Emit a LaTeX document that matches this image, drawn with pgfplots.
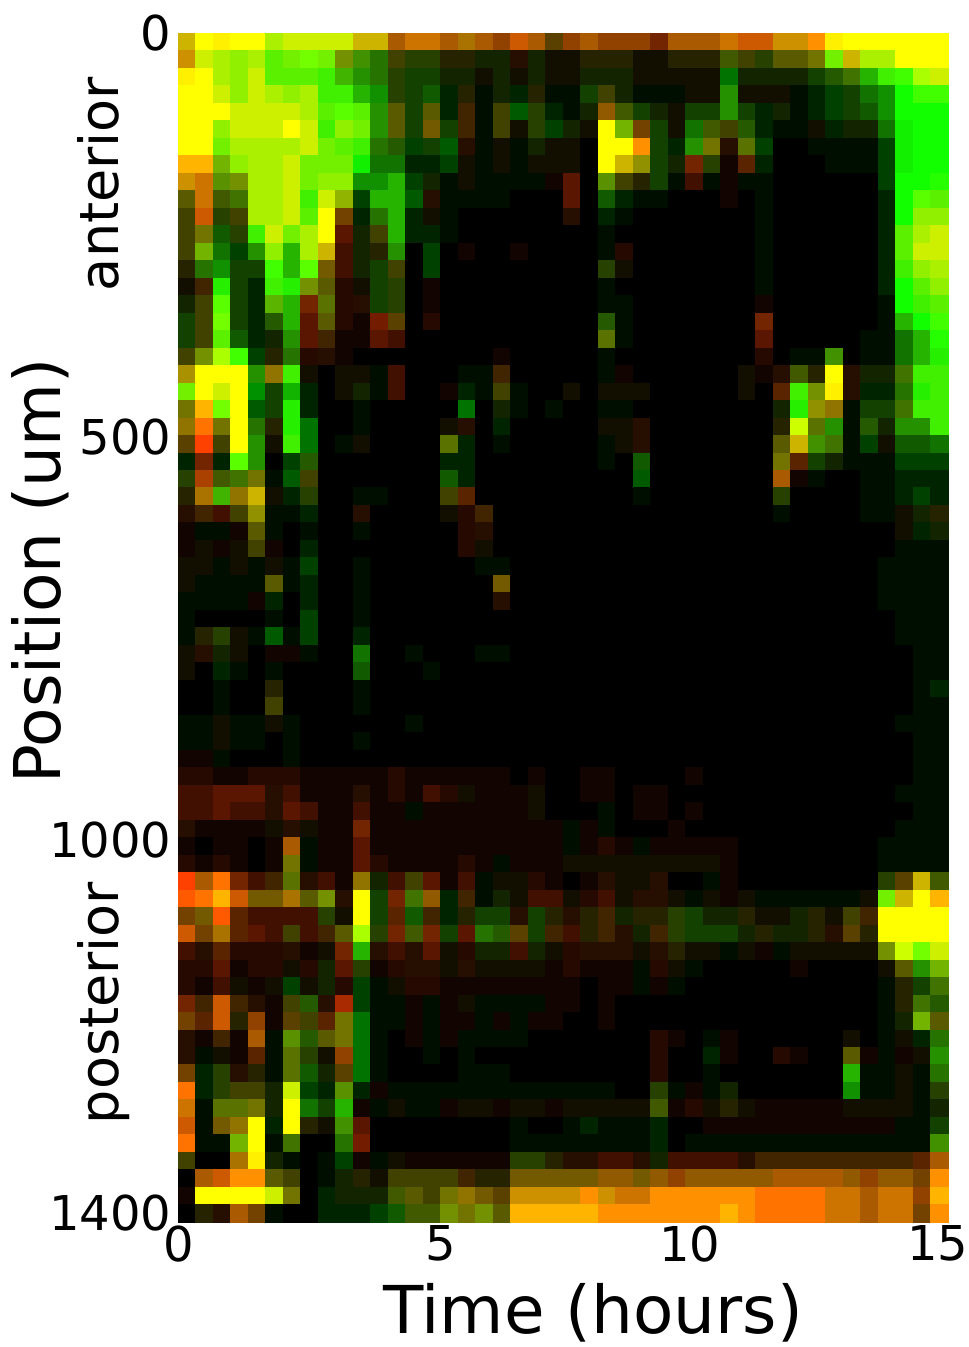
\documentclass[border=0pt]{standalone}
\usepackage{fontspec}
\setmainfont{DejaVu Sans}
\usepackage{pgfplots}
\usepackage{pgfplotstable}
\pgfplotsset{compat=1.18}
% every cell is RG: red level (tens) and green level (units), each 0..9
\pgfplotstableread[header=false]{
87 99 98 99 99 78 88 88 88 88 87 87 74 85 85 74 75 74 63 84 74 43 63 74 63 63 63 52 74 74 74 85 84 84 86 86 96 98 99 99 99 99 99 99
86 88 78 68 78 48 58 59 58 56 36 25 33 23 23 22 22 12 12 21 12 11 11 22 22 22 11 11 22 22 22 34 33 23 44 44 55 58 87 78 78 99 99 99
98 99 78 68 88 48 48 48 38 37 26 25 23 13 13 12 12 11 12 11 12 11 11 12 12 12 11 11 11 11 11 5 12 12 12 12 13 24 35 27 38 39 79 88
99 99 88 68 88 78 68 78 38 38 27 16 23 13 14 2 22 1 12 2 22 1 1 13 33 12 1 1 1 11 11 26 11 11 11 1 2 3 13 15 16 19 39 39
99 99 99 88 88 88 88 78 48 49 48 26 44 13 44 2 32 1 33 4 23 2 1 12 64 34 13 12 11 13 13 26 13 2 12 1 2 3 13 14 16 19 19 19
99 99 68 88 88 88 99 88 38 68 58 26 44 13 54 13 32 1 33 11 23 3 12 11 99 57 53 13 11 15 34 33 24 2 1 1 11 2 12 12 15 18 19 19
99 99 58 78 78 78 78 88 58 48 38 25 24 3 13 4 21 1 11 1 12 11 11 0 99 99 96 13 2 26 55 21 45 3 0 0 1 1 1 1 3 18 19 19
97 97 57 68 78 78 88 58 58 58 18 15 15 2 2 3 11 1 11 1 11 11 11 0 99 87 66 13 12 52 23 10 42 2 0 0 0 1 1 1 3 18 19 19
86 85 46 56 78 78 88 58 68 68 16 16 27 3 12 1 11 1 1 1 1 10 41 0 46 33 22 13 1 30 1 10 1 1 0 0 0 0 0 0 3 19 19 29
44 85 34 35 78 78 88 38 88 67 3 27 27 4 21 1 1 1 1 0 0 0 41 0 14 2 1 1 0 0 0 10 0 1 0 0 0 0 0 0 2 19 49 48
33 84 23 33 78 78 88 48 99 53 2 25 27 2 11 1 0 0 0 0 0 0 21 0 2 1 0 0 0 0 0 0 0 1 0 0 0 0 0 0 2 19 68 68
33 55 14 23 38 88 58 78 99 40 12 33 27 2 2 1 0 0 0 0 0 0 0 0 1 0 0 0 0 0 0 0 0 1 0 0 0 0 0 0 2 48 78 88
33 57 15 3 26 68 27 78 87 30 12 22 26 0 3 0 10 0 0 10 0 0 0 0 1 20 0 0 0 0 0 0 0 1 0 0 0 0 0 0 2 48 88 88
22 25 16 13 13 39 27 49 54 30 12 13 33 0 3 0 0 0 0 0 0 0 0 0 23 11 0 0 0 0 0 0 0 1 0 0 0 0 0 0 2 38 68 78
11 32 28 13 2 38 28 56 44 20 11 13 23 0 10 0 0 0 0 0 0 0 0 0 1 0 0 0 0 0 0 0 0 1 0 0 0 0 0 0 2 19 48 68
12 33 49 13 2 47 27 52 45 20 21 13 23 0 10 0 0 0 0 0 0 0 0 0 1 1 0 0 0 0 0 0 0 10 0 0 0 0 0 0 1 19 38 48
13 33 59 13 2 24 27 41 44 20 10 51 43 0 20 0 0 0 0 0 0 0 0 0 24 1 0 0 0 0 0 0 0 52 0 0 0 0 0 0 1 27 19 39
13 33 48 14 2 12 26 40 32 10 10 41 31 0 0 0 0 0 0 0 0 0 0 0 45 1 0 0 0 0 0 0 0 41 0 0 0 0 0 1 1 15 27 29
33 56 79 39 3 22 25 20 21 10 0 0 0 0 0 0 0 0 10 0 0 0 0 0 1 0 0 0 0 0 0 0 0 20 0 1 1 36 0 1 1 15 27 28
76 99 99 99 26 65 38 11 0 11 11 1 30 0 0 0 1 1 32 0 0 0 0 0 1 10 0 0 0 0 0 0 11 10 21 34 22 99 21 12 12 35 38 38
58 99 88 99 6 13 17 2 0 11 12 1 30 0 0 10 2 1 33 1 0 0 11 0 11 11 11 0 0 0 0 0 11 0 42 38 56 98 21 2 2 25 28 38
55 97 59 99 4 13 28 2 0 0 1 0 0 0 0 0 5 0 12 1 0 1 0 0 1 1 0 0 0 0 0 0 0 0 12 28 66 65 1 13 13 35 38 38
65 95 55 99 25 22 28 5 0 0 1 0 0 0 0 11 21 0 2 0 0 0 0 0 11 11 21 0 0 0 0 0 0 0 22 89 45 26 1 24 12 26 26 38
43 93 33 99 26 11 38 5 0 1 11 0 0 0 0 45 2 0 1 0 0 0 0 0 1 11 21 0 0 0 0 0 0 0 44 87 36 35 1 3 11 14 14 15
2 52 2 49 26 0 3 24 0 0 0 0 0 0 0 2 2 0 0 0 0 0 0 0 1 0 14 0 0 0 0 0 0 0 55 42 13 12 1 1 1 3 3 3
23 73 34 35 55 1 4 33 0 0 0 0 0 0 0 14 2 0 0 0 0 0 0 0 0 0 4 0 0 0 0 0 0 0 74 10 1 0 0 1 1 2 2 2
22 75 37 65 87 11 2 23 0 0 1 1 0 0 0 33 42 0 0 0 0 0 0 0 0 0 1 0 0 0 0 0 0 0 23 0 0 0 0 1 1 2 3 2
21 32 31 33 66 1 1 2 0 0 21 0 0 0 0 11 20 32 0 0 0 0 0 0 0 0 0 0 0 0 0 0 0 0 1 0 0 0 0 1 1 11 12 22
10 1 1 10 44 1 0 1 0 0 1 0 0 0 0 0 20 21 0 0 0 0 0 0 0 0 0 0 0 0 0 0 0 0 0 0 0 0 0 0 0 11 2 12
10 11 10 11 33 10 0 2 0 0 0 0 0 0 0 0 20 11 0 0 0 0 0 0 0 0 0 0 0 0 0 0 0 0 0 0 0 0 0 0 0 1 1 1
11 11 1 11 1 11 1 3 0 0 1 0 0 0 0 0 0 1 1 0 0 0 0 0 0 0 0 0 0 0 0 0 0 0 0 0 0 0 0 0 1 1 1 1
11 1 1 1 1 44 1 2 0 0 1 0 0 0 0 0 0 0 54 0 0 0 0 0 0 0 0 0 0 0 0 0 0 0 0 0 0 0 0 0 1 1 1 1
1 1 1 1 10 2 0 2 0 0 1 0 0 0 0 0 0 0 21 0 0 0 0 0 0 0 0 0 0 0 0 0 0 0 0 0 0 0 0 0 1 1 1 1
1 0 0 0 0 1 0 3 0 0 1 0 0 0 0 0 0 0 0 0 0 0 0 0 0 0 0 0 0 0 0 0 0 0 0 0 0 0 0 0 0 1 1 1
1 22 23 11 1 4 1 3 0 0 2 0 0 0 0 0 0 0 0 0 0 0 0 0 0 0 0 0 0 0 0 0 0 0 0 0 0 0 0 0 0 1 1 1
11 21 12 11 0 10 10 1 0 0 15 0 0 1 0 0 0 1 1 0 0 0 0 0 0 0 0 0 0 0 0 0 0 0 0 0 0 0 0 0 0 0 1 1
11 0 2 1 0 1 0 0 0 0 14 0 0 0 1 0 0 0 0 0 0 0 0 0 0 0 0 0 0 0 0 0 0 0 0 0 0 0 0 0 0 0 1 1
0 0 1 0 0 22 0 0 0 0 1 0 0 0 0 0 0 0 0 0 0 0 0 0 0 0 0 0 0 0 0 0 0 0 0 0 0 0 0 0 0 0 1 2
0 0 1 0 0 33 0 0 0 0 1 0 0 0 0 0 0 0 0 0 0 0 0 0 0 0 0 0 0 0 0 0 0 0 0 0 0 0 0 0 0 0 1 1
1 1 11 1 1 11 1 0 0 0 0 0 0 1 0 0 0 0 0 0 0 0 0 0 0 0 0 0 0 0 0 0 0 0 0 0 0 0 0 0 0 1 1 1
1 1 11 1 1 0 1 0 0 0 1 0 0 0 0 0 0 0 0 0 0 0 0 0 0 0 0 0 0 0 0 0 0 0 0 0 0 0 0 0 0 0 1 1
10 10 1 0 0 0 1 0 0 0 0 0 0 0 0 0 0 0 0 0 0 0 0 0 0 0 0 0 0 0 0 0 0 0 0 0 0 0 0 0 0 0 1 1
20 20 10 10 20 20 20 10 10 10 10 10 20 10 10 10 10 10 10 0 10 0 0 10 10 0 0 0 0 10 0 0 0 0 0 0 0 0 0 0 0 0 1 1
31 31 41 41 41 21 31 10 10 10 21 10 20 10 30 20 11 10 10 10 11 0 0 10 10 0 10 10 0 0 0 0 0 0 0 0 0 0 0 0 0 1 1 1
31 31 41 31 31 21 41 31 10 10 30 10 10 1 10 10 10 10 10 10 11 0 0 0 1 0 10 10 0 10 0 0 0 0 0 0 0 0 0 0 0 0 1 1
21 10 10 10 10 11 21 11 10 10 52 10 10 10 10 10 10 10 10 10 10 10 1 10 1 0 0 0 10 0 0 0 0 0 0 0 0 0 0 0 0 1 1 1
10 0 10 10 0 10 74 1 10 10 41 10 10 10 10 10 10 10 10 10 10 10 1 10 20 10 1 10 10 10 10 10 0 0 0 0 0 0 0 0 1 1 1 1
20 10 20 10 0 10 55 1 10 10 41 20 10 10 10 10 20 10 1 10 10 10 11 11 11 11 11 11 11 11 11 10 0 0 0 0 0 0 0 0 1 1 1 1
93 74 95 52 31 32 45 21 31 10 65 12 31 33 41 10 31 1 11 11 20 10 0 10 21 11 11 21 0 0 1 10 0 0 0 0 0 0 0 0 23 43 87 34
94 95 97 84 54 54 75 44 56 21 99 13 52 35 64 2 32 1 12 11 31 31 11 20 31 11 21 21 11 1 11 10 11 1 1 1 1 1 1 11 58 87 99 97
53 54 94 42 31 31 31 31 23 11 99 13 42 14 32 2 22 13 13 21 13 22 21 22 32 12 22 22 23 13 12 12 22 11 11 12 22 11 33 32 99 99 99 99
84 53 75 42 41 31 33 31 32 44 79 23 52 34 52 13 41 25 24 43 13 32 31 22 32 21 12 32 23 13 13 13 12 22 12 12 22 21 43 22 99 99 99 99
31 21 42 20 20 20 21 10 11 52 27 21 31 21 41 11 20 12 12 31 12 11 20 21 21 21 11 21 22 11 11 1 11 10 1 11 11 11 11 11 56 89 59 88
20 20 41 10 20 20 11 20 12 41 23 10 20 21 21 11 21 11 11 11 11 10 20 10 10 10 1 20 11 1 0 0 0 0 0 10 0 0 0 0 11 44 26 57
20 10 30 11 10 11 3 11 12 20 3 1 11 20 20 10 10 10 10 10 10 10 10 0 10 10 1 10 1 0 0 0 0 0 0 0 0 0 0 0 1 22 13 35
52 32 84 32 21 10 33 24 21 72 3 1 1 10 1 10 11 1 1 1 1 10 10 0 10 0 0 0 0 0 0 0 0 0 0 0 0 0 0 0 1 22 35 24
53 42 84 22 63 10 43 33 42 55 5 1 1 10 1 10 10 1 10 1 10 10 0 0 10 0 0 0 0 0 0 0 0 0 0 0 0 0 0 0 1 12 57 44
21 10 32 10 74 1 46 24 44 55 5 1 0 10 1 10 1 1 1 1 0 0 0 0 0 0 0 20 10 0 1 10 0 0 0 0 0 0 11 0 1 11 2 25
21 1 11 10 42 1 45 23 11 63 5 1 0 0 1 0 1 0 0 0 0 0 0 0 0 0 0 20 0 0 2 10 0 0 20 10 0 0 44 10 1 10 11 26
53 2 23 21 22 1 45 14 12 43 5 1 0 0 0 0 1 1 1 0 0 0 0 0 0 0 0 20 0 0 1 0 0 0 0 0 0 0 27 1 1 11 1 25
95 2 23 33 33 12 88 3 2 46 2 10 1 1 1 1 1 1 1 1 1 1 1 1 1 0 0 23 1 10 1 12 0 0 0 0 0 0 16 1 1 11 1 23
85 1 45 45 55 12 99 15 13 27 10 1 11 1 1 10 11 11 10 11 11 10 11 11 11 11 11 34 10 20 11 22 11 10 10 10 10 10 11 11 11 11 1 12
84 1 54 65 99 2 99 22 11 36 40 0 0 0 0 0 0 0 0 1 0 0 1 2 1 1 1 2 0 0 10 10 10 10 10 10 10 10 10 10 10 1 1 13
95 1 1 57 99 1 35 0 0 25 51 0 0 0 0 0 0 0 0 1 1 1 1 1 1 1 1 2 0 1 1 1 1 1 1 1 1 1 1 1 1 1 1 36
33 0 0 75 98 12 1 0 1 3 10 1 11 10 10 10 10 10 10 23 23 22 21 21 31 31 21 12 31 31 31 31 21 32 32 32 32 32 32 32 32 32 42 74
0 74 84 96 96 44 33 0 1 12 22 11 33 33 33 33 32 22 22 54 54 54 54 54 64 64 54 64 63 64 64 64 64 64 74 74 74 74 64 63 64 64 53 96
10 99 99 99 99 88 55 0 2 12 12 12 34 44 33 55 65 54 43 86 86 86 86 96 86 85 85 96 96 96 96 96 96 95 95 95 95 85 85 74 85 85 63 97
0 22 21 74 53 1 0 0 2 2 2 3 14 34 34 56 55 56 44 97 97 97 97 97 96 96 96 96 96 96 96 97 96 95 95 95 95 85 85 74 85 85 53 96
}\cells
\begin{document}
\begin{tikzpicture}[x=1pt,y=1pt]
\path[use as bounding box] (0,0) rectangle (969,1347);
\begin{axis}[
  at={(178pt,125pt)}, anchor=south west,
  width=770pt, height=1189pt, scale only axis,
  xmin=0, xmax=15, ymin=0, ymax=1400, y dir=reverse,
  axis line style={draw=none},
  major tick length=0pt,
  tick style={draw=none},
  xtick={0.02,5.12,9.97,14.8}, xticklabels={0,5,10,15},
  ytick={0,476,950,1390}, yticklabels={0,500,1000,1400},
  tick label style={font=\fontsize{48}{48}\selectfont},
  xticklabel style={yshift=0pt},
  yticklabel style={xshift=-3pt},
  axis background/.style={fill=black},
]
\pgfplotsinvokeforeach{0,...,43}{
  \addplot[scatter, only marks, mark=square*, mark size=8.75pt,
    point meta=explicit symbolic,
    scatter/@pre marker code/.code={%
      \pgfmathparse{{0,18,38,65,90,115,145,170,205,255}[int(\pgfplotspointmeta/10)]}\edef\cellR{\pgfmathresult}%
      \pgfmathparse{max({0,14,36,65,90,115,145,180,240,255}[int(mod(\pgfplotspointmeta,10))],int(0.25*\cellR))}\edef\cellG{\pgfmathresult}%
      \pgfmathtruncatemacro\cellGi{\cellG}%
      \definecolor{cellcolor}{RGB}{\cellR,\cellGi,0}%
      \scope[draw=cellcolor,fill=cellcolor,line width=0.3pt]%
    },
    scatter/@post marker code/.code={\endscope},
  ] table[x expr={(#1+0.5)*15/44}, y expr={(\coordindex+0.5)*1400/68}, meta index=#1] {\cells};
}
\end{axis}
\node[rotate=90,anchor=base,font=\fontsize{64.5}{64.5}\selectfont] at (60,776) {Position (um)};
\node[rotate=90,anchor=base,font=\fontsize{54}{54}\selectfont] at (118,1163) {anterior};
\node[rotate=90,anchor=base,font=\fontsize{54}{54}\selectfont] at (118,344) {posterior};
\node[anchor=base,font=\fontsize{66}{66}\selectfont] at (593,13) {Time (hours)};
\end{tikzpicture}
\end{document}
